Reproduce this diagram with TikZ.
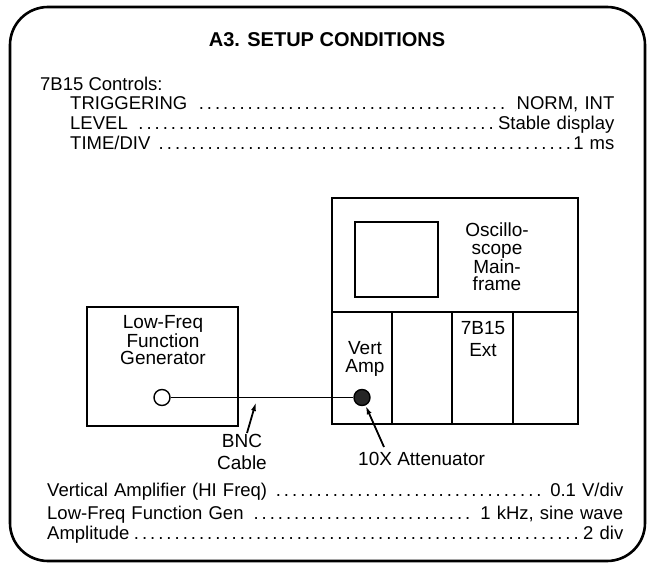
\documentclass[tikz,border=0pt]{standalone}
\usepackage{fontspec}
\setmainfont{Liberation Sans}
\usetikzlibrary{arrows.meta}

\begin{document}
\begin{tikzpicture}[
    x=1pt, y=-1pt,
    font=\fontsize{18.5}{20}\selectfont,
    %% outline styles
    frame/.style={line width=2.6pt, rounded corners=38pt},
    unitbox/.style={draw, line width=2.6pt, inner sep=0pt},
    panel/.style={line width=1.6pt},
    %% jack styles
    jack/.style={circle, draw, line width=1.4pt, minimum size=16pt, inner sep=0pt, fill=white},
    plug/.style={circle, draw, fill=black!85, line width=1.4pt, minimum size=16pt, inner sep=0pt},
    %% connector styles
    cable/.style={line width=1.4pt},
    pointer/.style={-{Latex[length=9pt, width=5pt]}, line width=1.8pt},
    %% label styles
    lbl/.style={font=\fontsize{19}{17.5}\selectfont, align=center, inner sep=0pt},
    leader/.style={anchor=base west, inner sep=0pt, text width=#1}
]
    \useasboundingbox (0,0) rectangle (647,569);

    %% --- frame and heading ------------------------------------
    \draw[frame] (10,7) rectangle (645,561);
    \node[font=\fontsize{20}{24}\selectfont\bfseries, anchor=base] (title) at (327,47) {A3. SETUP CONDITIONS};

    %% --- plug-in settings -------------------------------------
    \node[anchor=base west, inner sep=0pt] (ctrl) at (40,91) {7B15 Controls:};
    \node[leader=544pt] (trig)    at (70,110) {TRIGGERING\ \dotfill\ NORM, INT};
    \node[leader=544pt] (level)   at (70,130) {LEVEL\ \dotfill Stable display};
    \node[leader=544pt] (timediv) at (70,150) {TIME/DIV\ \dotfill 1 ms};

    %% --- equipment --------------------------------------------
    \node[unitbox, minimum width=151pt, minimum height=119pt] (gen) at (162.5,366.5) {};
    \node[unitbox, minimum width=246pt, minimum height=226pt] (scope) at (455,311) {};
    \node[draw, line width=1.8pt, minimum width=83pt, minimum height=75pt, inner sep=0pt] (crt) at (396.5,259.5) {};

    \coordinate (deck) at (332,312);
    \draw[panel] (deck) -- (deck -| scope.east);
    \foreach \sx in {392,452,513}
        \draw[panel] (\sx,312) -- (\sx,424);

    \node[lbl] (gentxt)   at (163,340) {Low-Freq\\Function\\Generator};
    \node[lbl] (scopetxt) at (497,257) {Oscillo-\\scope\\Main-\\frame};
    \node[lbl] (verttxt)  at (365,359) {Vert\\Amp};
    \node[lbl] (exttxt)   at (483,339) {7B15\\[4pt]Ext};

    %% --- cable ------------------------------------------------
    \node[jack] (genout) at (162,397.5) {};
    \node[plug] (vertin) at (362,397.5) {};
    \draw[cable] (genout) -- (vertin);

    %% --- callouts ---------------------------------------------
    \node[lbl] (bnc) at (242,452) {BNC\\[4pt]Cable};
    \node[lbl, anchor=base west] (atten) at (358,465) {10X Attenuator};
    \coordinate (bnctail) at (247,433);
    \coordinate (bnctap)  at (256,402);
    \coordinate (attail)  at (384,447);
    \draw[pointer] (bnctail) -- (bnctap);
    \draw[pointer] (attail) -- (vertin);

    %% --- signal settings --------------------------------------
    \node[leader=576pt] (vamp) at (47,496) {Vertical Amplifier (HI Freq)\ \dotfill\ 0.1 V/div};
    \node[leader=576pt] (fgen) at (47,519) {Low-Freq Function Gen\ \dotfill\ 1 kHz, sine wave};
    \node[leader=576pt] (ampl) at (47,539) {Amplitude\dotfill 2 div};

\end{tikzpicture}
\end{document}
